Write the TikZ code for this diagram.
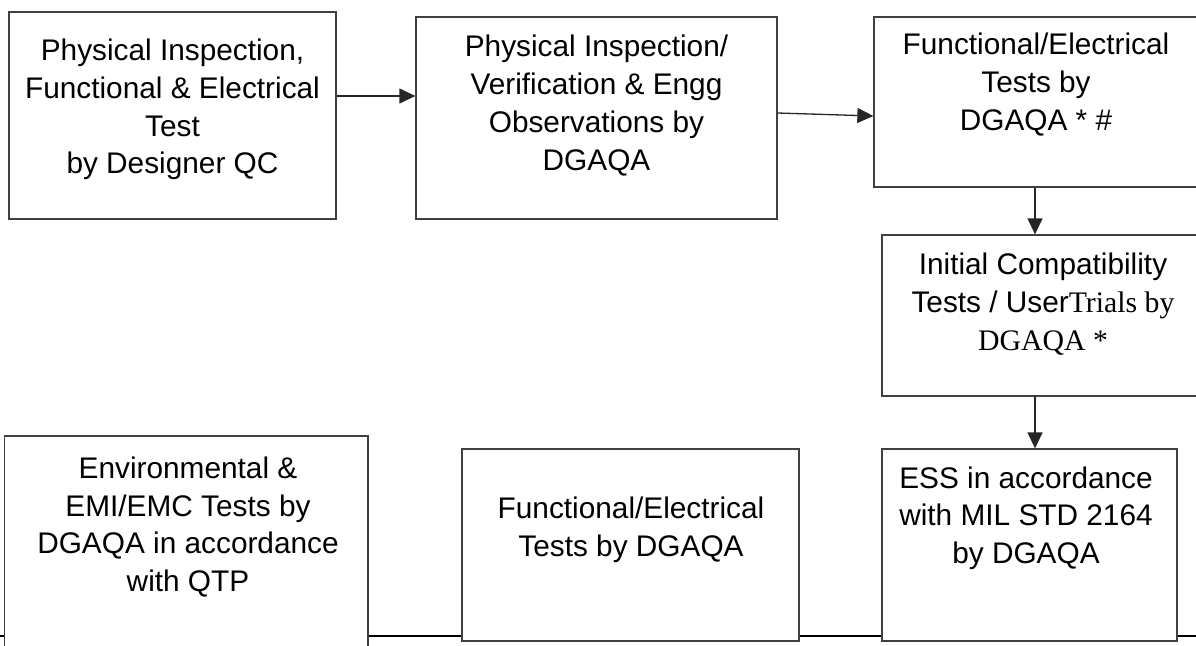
\documentclass[tikz,border=0pt]{standalone}
\usepackage{fontspec}
\setmainfont{Liberation Sans}
\newfontfamily\tnr{Liberation Serif}
\usetikzlibrary{arrows.meta}
\begin{document}
\begin{tikzpicture}[x=1pt,y=-1pt,
  boxst/.style={draw=black!75, line width=1.3pt, fill=white, rectangle, inner sep=0pt},
  txt/.style={align=center, inner sep=0pt, font=\fontsize{29.8}{37.7}\selectfont},
  arr/.style={draw=black!85, line width=1.3pt, -{Triangle[length=16pt,width=15pt]}}]
\useasboundingbox (0,0) rectangle (1196,645);
\clip (0,0) rectangle (1196,645);
\fill[white] (0,0) rectangle (1196,645);
% separator rule
\draw[line width=2pt, black] (0,636) -- (1196,636);
% boxes
\node[boxst, minimum width=327pt, minimum height=207pt] (b1) at (172.5,115.5) {};
\node[boxst, minimum width=361pt, minimum height=202pt] (b2) at (596.5,118) {};
\node[boxst, minimum width=324pt, minimum height=170pt] (b3) at (1036,102) {};
\node[boxst, minimum width=322pt, minimum height=161pt] (b4) at (1043,315.5) {};
\node[boxst, minimum width=295pt, minimum height=192pt] (b5) at (1029.5,545) {};
\node[boxst, minimum width=363.5pt, minimum height=234pt] (b6) at (186.25,553) {};
\node[boxst, minimum width=337pt, minimum height=192pt] (b7) at (630.5,545) {};
% texts
\node[txt] (t1) at (172.5,109.5) {Physical Inspection,\\Functional \& Electrical\\Test\\by Designer QC};
\node[txt] (t2) at (596.5,105.5) {Physical Inspection/\\Verification \& Engg\\Observations by\\DGAQA};
\node[txt] (t3) at (1036,84.5) {Functional/Electrical\\Tests by\\DGAQA * \#};
\node[txt] (t4) at (1043,304) {Initial Compatibility\\Tests / User{\tnr Trials by}\\{\tnr DGAQA *}};
\node[txt] (t5) at (1026,518) {ESS in accordance\\with MIL STD 2164\\by DGAQA};
\node[txt] (t6) at (188,527) {Environmental \&\\EMI/EMC Tests by\\DGAQA in accordance\\with QTP};
\node[txt] (t7) at (631,530) {Functional/Electrical\\Tests by DGAQA};
% connectors
\draw[arr] ([yshift=19.5pt]b1.east) coordinate (s1) -- (s1 -| b2.west);
\draw[arr] ([yshift=5pt]b2.east) -- ([yshift=-14pt]b3.west);
\draw[arr] ([xshift=-1pt]b3.south) -- ([xshift=-8pt]b4.north);
\draw[arr] ([xshift=-8pt]b4.south) -- ([xshift=5.5pt]b5.north);
\end{tikzpicture}
\end{document}
